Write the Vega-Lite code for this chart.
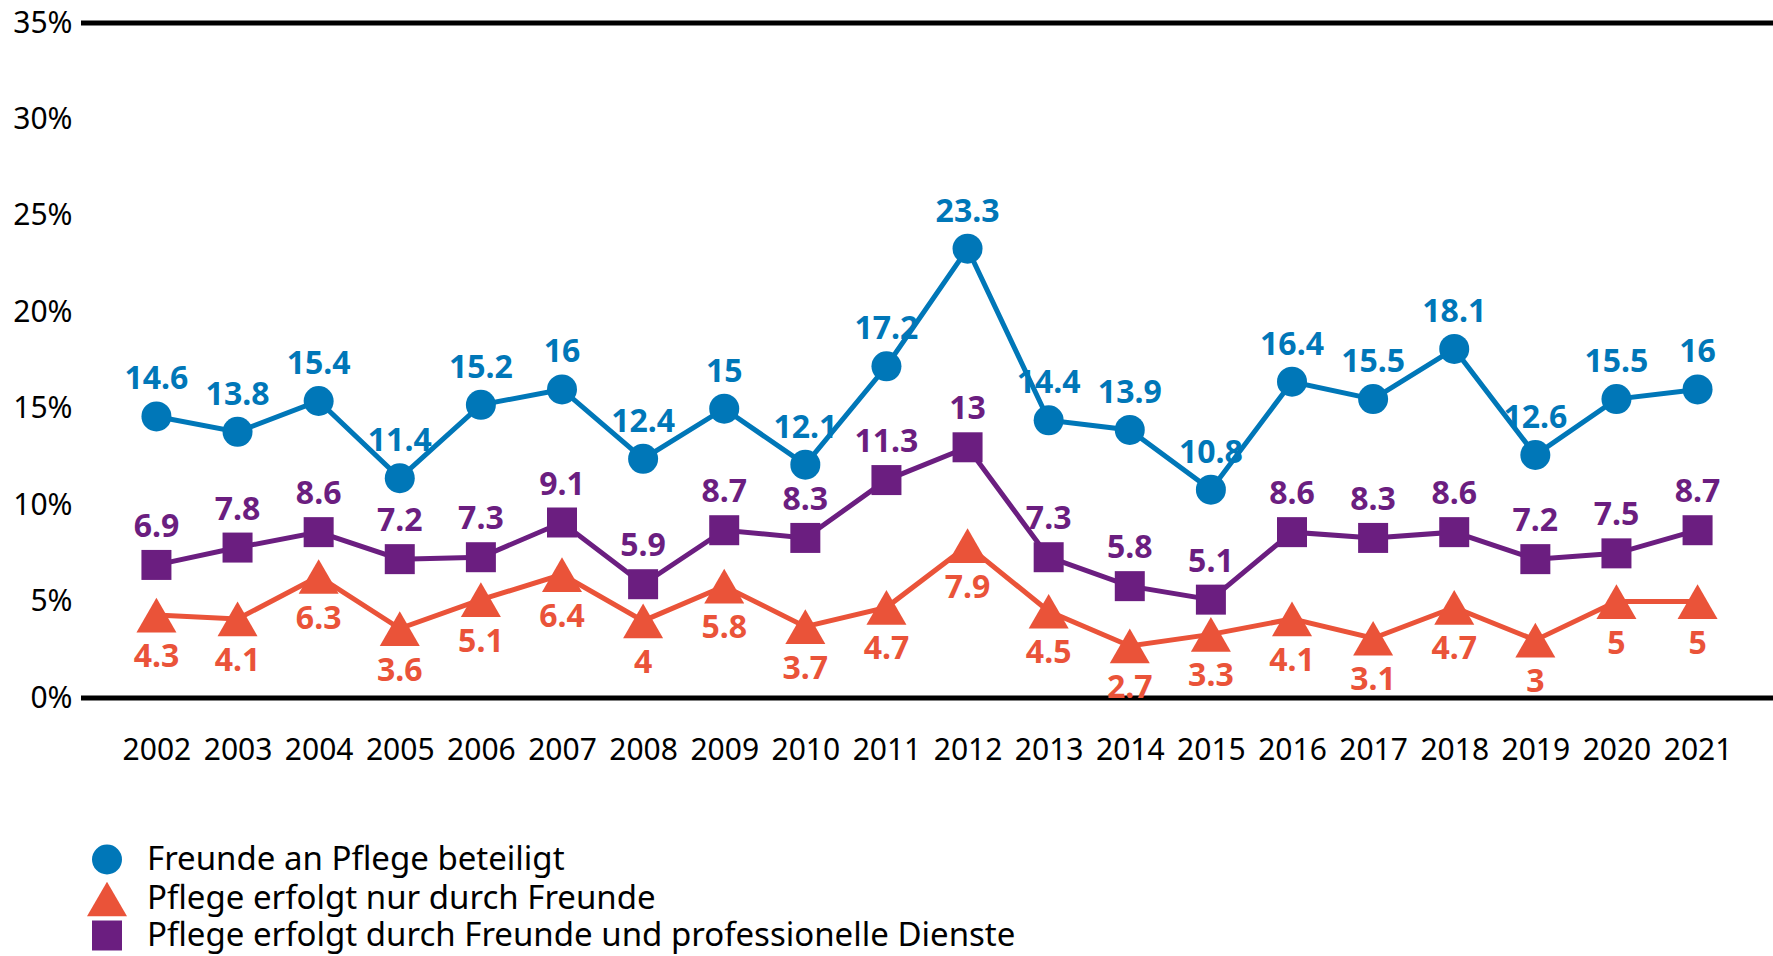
{
  "$schema": "https://vega.github.io/schema/vega-lite/v6.json",
  "width": 1692,
  "height": 675,
  "autosize": {"type": "none"},
  "padding": {"left": 81, "top": 23, "right": 0, "bottom": 258},
  "background": "white",
  "config": {
    "view": {"stroke": null},
    "font": "Noto Sans",
    "legend": {
      "orient": "none",
      "legendX": 6,
      "legendY": 820,
      "direction": "vertical",
      "title": null,
      "labelFont": "Noto Sans",
      "labelFontSize": 33,
      "labelColor": "black",
      "labelOffset": 20,
      "rowPadding": 2,
      "symbolStrokeWidth": 0,
      "symbolOpacity": 1,
      "padding": 0,
      "labelLimit": 1200
    }
  },
  "datasets": {
    "main": [
      {"year": "2002", "series": "Freunde an Pflege beteiligt", "value": 14.6},
      {"year": "2003", "series": "Freunde an Pflege beteiligt", "value": 13.8},
      {"year": "2004", "series": "Freunde an Pflege beteiligt", "value": 15.4},
      {"year": "2005", "series": "Freunde an Pflege beteiligt", "value": 11.4},
      {"year": "2006", "series": "Freunde an Pflege beteiligt", "value": 15.2},
      {"year": "2007", "series": "Freunde an Pflege beteiligt", "value": 16},
      {"year": "2008", "series": "Freunde an Pflege beteiligt", "value": 12.4},
      {"year": "2009", "series": "Freunde an Pflege beteiligt", "value": 15},
      {"year": "2010", "series": "Freunde an Pflege beteiligt", "value": 12.1},
      {"year": "2011", "series": "Freunde an Pflege beteiligt", "value": 17.2},
      {"year": "2012", "series": "Freunde an Pflege beteiligt", "value": 23.3},
      {"year": "2013", "series": "Freunde an Pflege beteiligt", "value": 14.4},
      {"year": "2014", "series": "Freunde an Pflege beteiligt", "value": 13.9},
      {"year": "2015", "series": "Freunde an Pflege beteiligt", "value": 10.8},
      {"year": "2016", "series": "Freunde an Pflege beteiligt", "value": 16.4},
      {"year": "2017", "series": "Freunde an Pflege beteiligt", "value": 15.5},
      {"year": "2018", "series": "Freunde an Pflege beteiligt", "value": 18.1},
      {"year": "2019", "series": "Freunde an Pflege beteiligt", "value": 12.6},
      {"year": "2020", "series": "Freunde an Pflege beteiligt", "value": 15.5},
      {"year": "2021", "series": "Freunde an Pflege beteiligt", "value": 16},
      {"year": "2002", "series": "Pflege erfolgt nur durch Freunde", "value": 4.3},
      {"year": "2003", "series": "Pflege erfolgt nur durch Freunde", "value": 4.1},
      {"year": "2004", "series": "Pflege erfolgt nur durch Freunde", "value": 6.3},
      {"year": "2005", "series": "Pflege erfolgt nur durch Freunde", "value": 3.6},
      {"year": "2006", "series": "Pflege erfolgt nur durch Freunde", "value": 5.1},
      {"year": "2007", "series": "Pflege erfolgt nur durch Freunde", "value": 6.4},
      {"year": "2008", "series": "Pflege erfolgt nur durch Freunde", "value": 4},
      {"year": "2009", "series": "Pflege erfolgt nur durch Freunde", "value": 5.8},
      {"year": "2010", "series": "Pflege erfolgt nur durch Freunde", "value": 3.7},
      {"year": "2011", "series": "Pflege erfolgt nur durch Freunde", "value": 4.7},
      {"year": "2012", "series": "Pflege erfolgt nur durch Freunde", "value": 7.9},
      {"year": "2013", "series": "Pflege erfolgt nur durch Freunde", "value": 4.5},
      {"year": "2014", "series": "Pflege erfolgt nur durch Freunde", "value": 2.7},
      {"year": "2015", "series": "Pflege erfolgt nur durch Freunde", "value": 3.3},
      {"year": "2016", "series": "Pflege erfolgt nur durch Freunde", "value": 4.1},
      {"year": "2017", "series": "Pflege erfolgt nur durch Freunde", "value": 3.1},
      {"year": "2018", "series": "Pflege erfolgt nur durch Freunde", "value": 4.7},
      {"year": "2019", "series": "Pflege erfolgt nur durch Freunde", "value": 3},
      {"year": "2020", "series": "Pflege erfolgt nur durch Freunde", "value": 5},
      {"year": "2021", "series": "Pflege erfolgt nur durch Freunde", "value": 5},
      {"year": "2002", "series": "Pflege erfolgt durch Freunde und professionelle Dienste", "value": 6.9},
      {"year": "2003", "series": "Pflege erfolgt durch Freunde und professionelle Dienste", "value": 7.8},
      {"year": "2004", "series": "Pflege erfolgt durch Freunde und professionelle Dienste", "value": 8.6},
      {"year": "2005", "series": "Pflege erfolgt durch Freunde und professionelle Dienste", "value": 7.2},
      {"year": "2006", "series": "Pflege erfolgt durch Freunde und professionelle Dienste", "value": 7.3},
      {"year": "2007", "series": "Pflege erfolgt durch Freunde und professionelle Dienste", "value": 9.1},
      {"year": "2008", "series": "Pflege erfolgt durch Freunde und professionelle Dienste", "value": 5.9},
      {"year": "2009", "series": "Pflege erfolgt durch Freunde und professionelle Dienste", "value": 8.7},
      {"year": "2010", "series": "Pflege erfolgt durch Freunde und professionelle Dienste", "value": 8.3},
      {"year": "2011", "series": "Pflege erfolgt durch Freunde und professionelle Dienste", "value": 11.3},
      {"year": "2012", "series": "Pflege erfolgt durch Freunde und professionelle Dienste", "value": 13},
      {"year": "2013", "series": "Pflege erfolgt durch Freunde und professionelle Dienste", "value": 7.3},
      {"year": "2014", "series": "Pflege erfolgt durch Freunde und professionelle Dienste", "value": 5.8},
      {"year": "2015", "series": "Pflege erfolgt durch Freunde und professionelle Dienste", "value": 5.1},
      {"year": "2016", "series": "Pflege erfolgt durch Freunde und professionelle Dienste", "value": 8.6},
      {"year": "2017", "series": "Pflege erfolgt durch Freunde und professionelle Dienste", "value": 8.3},
      {"year": "2018", "series": "Pflege erfolgt durch Freunde und professionelle Dienste", "value": 8.6},
      {"year": "2019", "series": "Pflege erfolgt durch Freunde und professionelle Dienste", "value": 7.2},
      {"year": "2020", "series": "Pflege erfolgt durch Freunde und professionelle Dienste", "value": 7.5},
      {"year": "2021", "series": "Pflege erfolgt durch Freunde und professionelle Dienste", "value": 8.7}
    ],
    "rules": [{"level": 0}, {"level": 35}]
  },
  "data": {"name": "main"},
  "encoding": {
    "x": {
      "field": "year",
      "type": "ordinal",
      "scale": {"type": "point", "padding": 0.93},
      "axis": {
        "title": null,
        "domain": false,
        "ticks": false,
        "tickSize": 0,
        "labelAngle": 0,
        "labelFont": "Noto Sans",
        "labelFontSize": 30,
        "labelColor": "black",
        "labelPadding": 37,
        "labelBaseline": "top"
      }
    },
    "y": {
      "field": "value",
      "type": "quantitative",
      "scale": {"domain": [0, 35], "nice": false},
      "axis": {
        "title": null,
        "domain": false,
        "ticks": false,
        "tickSize": 0,
        "grid": false,
        "values": [0, 5, 10, 15, 20, 25, 30, 35],
        "labelExpr": "datum.value + '%'",
        "labelFont": "Noto Sans",
        "labelFontSize": 30,
        "labelColor": "black",
        "labelPadding": 9
      }
    }
  },
  "layer": [
    {
      "data": {"name": "rules"},
      "mark": {"type": "rule", "color": "black", "strokeWidth": 5},
      "encoding": {
        "y": {"field": "level", "type": "quantitative"},
        "x": null
      }
    },
    {
      "transform": [{"filter": "datum.series === 'Freunde an Pflege beteiligt'"}],
      "mark": {"type": "line", "strokeWidth": 5, "color": "#0077b8"},
      "encoding": {}
    },
    {
      "transform": [{"filter": "datum.series === 'Pflege erfolgt nur durch Freunde'"}],
      "mark": {"type": "line", "strokeWidth": 5, "color": "#ea5339"},
      "encoding": {}
    },
    {
      "transform": [{"filter": "datum.series === 'Pflege erfolgt durch Freunde und professionelle Dienste'"}],
      "mark": {"type": "line", "strokeWidth": 5, "color": "#6b1e80"},
      "encoding": {}
    },
    {
      "mark": {"type": "point", "filled": true, "opacity": 1, "strokeWidth": 0},
      "encoding": {
        "color": {
          "field": "series",
          "type": "nominal",
          "scale": {
            "domain": ["Freunde an Pflege beteiligt", "Pflege erfolgt nur durch Freunde", "Pflege erfolgt durch Freunde und professionelle Dienste"],
            "range": ["#0077b8", "#ea5339", "#6b1e80"]
          }
        },
        "shape": {
          "field": "series",
          "type": "nominal",
          "scale": {
            "domain": ["Freunde an Pflege beteiligt", "Pflege erfolgt nur durch Freunde", "Pflege erfolgt durch Freunde und professionelle Dienste"],
            "range": ["circle", "triangle-up", "square"]
          }
        },
        "size": {
          "field": "series",
          "type": "nominal",
          "scale": {
            "type": "ordinal",
            "domain": ["Freunde an Pflege beteiligt", "Pflege erfolgt nur durch Freunde", "Pflege erfolgt durch Freunde und professionelle Dienste"],
            "range": [900, 1600, 900]
          }
        }
      }
    },
    {
      "transform": [{"filter": "datum.series === 'Freunde an Pflege beteiligt'"}],
      "mark": {"type": "text", "font": "Noto Sans", "fontWeight": "bold", "fontSize": 32, "dy": -37, "baseline": "middle", "color": "#0077b8"},
      "encoding": {"text": {"field": "value", "type": "quantitative"}}
    },
    {
      "transform": [{"filter": "datum.series === 'Pflege erfolgt durch Freunde und professionelle Dienste'"}],
      "mark": {"type": "text", "font": "Noto Sans", "fontWeight": "bold", "fontSize": 32, "dy": -38, "baseline": "middle", "color": "#6b1e80"},
      "encoding": {"text": {"field": "value", "type": "quantitative"}}
    },
    {
      "transform": [{"filter": "datum.series === 'Pflege erfolgt nur durch Freunde'"}],
      "mark": {"type": "text", "font": "Noto Sans", "fontWeight": "bold", "fontSize": 32, "dy": 42, "baseline": "middle", "color": "#ea5339"},
      "encoding": {"text": {"field": "value", "type": "quantitative"}}
    }
  ]
}
